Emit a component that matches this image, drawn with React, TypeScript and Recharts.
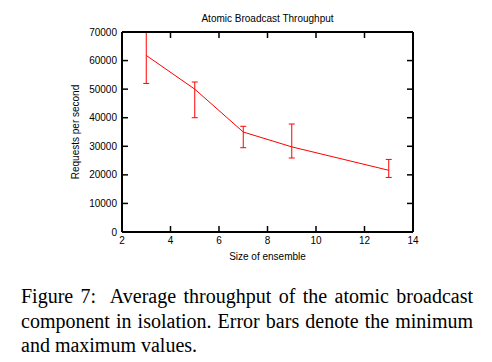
import { LineChart, Line, XAxis, YAxis, ErrorBar, Label } from 'recharts'

const sizes = [3, 5, 7, 9, 13]
const throughput = [61800, 50000, 35000, 29800, 21600]
const minimum = [52000, 40000, 29500, 25900, 19100]
const maximum = [70000, 52500, 37000, 37800, 25400]

const xTicks = [2, 4, 6, 8, 10, 12, 14]
const yTicks = [0, 10000, 20000, 30000, 40000, 50000, 60000, 70000]

const data = sizes.map((size, i) => ({
  size,
  rps: throughput[i],
  err: [throughput[i] - minimum[i], maximum[i] - throughput[i]],
}))

const font = { fontFamily: '"Liberation Sans", Arial, sans-serif', fontSize: 10, fill: '#000' }
const frame = { stroke: '#000', strokeWidth: 2 }
const tickLine = { stroke: '#000', strokeWidth: 1.5 }
// mirror axes keep their tick marks but draw no labels
const noLabel = () => <g />

export default function App() {
  return (
    <div style={{ position: 'absolute', left: 0, top: 0, width: 492, height: 362, background: '#fff' }}>
      <LineChart
        width={492}
        height={270}
        data={data}
        margin={{ top: 31, right: 78, bottom: 10, left: 28 }}
      >
        <XAxis
          dataKey="size"
          type="number"
          domain={[2, 14]}
          ticks={xTicks}
          interval={0}
          height={28}
          axisLine={frame}
          tickLine={tickLine}
          tickSize={-6}
          tickMargin={11}
          tick={font}
        >
          <Label value="Size of ensemble" position="insideBottom" offset={0} style={font} />
        </XAxis>
        <XAxis
          xAxisId="top"
          orientation="top"
          dataKey="size"
          type="number"
          domain={[2, 14]}
          ticks={xTicks}
          interval={0}
          height={1}
          axisLine={frame}
          tickLine={tickLine}
          tickSize={-6}
          tick={noLabel}
        >
          <Label value="Atomic Broadcast Throughput" position="top" offset={9} style={font} />
        </XAxis>
        <YAxis
          type="number"
          domain={[0, 70000]}
          ticks={yTicks}
          interval={0}
          allowDataOverflow
          width={94}
          axisLine={frame}
          tickLine={tickLine}
          tickSize={-6}
          tickMargin={11}
          tick={font}
        >
          <Label value="Requests per second" angle={-90} position="center" style={font} />
        </YAxis>
        <YAxis
          yAxisId="right"
          orientation="right"
          type="number"
          domain={[0, 70000]}
          ticks={yTicks}
          interval={0}
          width={1}
          axisLine={frame}
          tickLine={tickLine}
          tickSize={-6}
          tick={noLabel}
        />
        <Line
          xAxisId="top"
          yAxisId="right"
          dataKey="rps"
          stroke="none"
          dot={false}
          legendType="none"
          isAnimationActive={false}
        />
        <Line
          dataKey="rps"
          stroke="#ff0000"
          strokeWidth={1}
          dot={false}
          isAnimationActive={false}
        >
          <ErrorBar dataKey="err" direction="y" width={3} stroke="#ff0000" strokeWidth={1} isAnimationActive={false} />
        </Line>
      </LineChart>
      <div
        style={{
          position: 'absolute',
          left: 21,
          top: 284,
          width: 452,
          fontFamily: '"Liberation Serif", "Times New Roman", serif',
          fontSize: 20,
          lineHeight: '24.5px',
          color: '#000',
        }}
      >
        <div style={{ textAlign: 'justify', textAlignLast: 'justify', whiteSpace: 'nowrap' }}>
          Figure 7:&nbsp; Average throughput of the atomic broadcast
        </div>
        <div style={{ textAlign: 'justify', textAlignLast: 'justify', whiteSpace: 'nowrap' }}>
          component in isolation. Error bars denote the minimum
        </div>
        <div>and maximum values.</div>
      </div>
    </div>
  )
}
